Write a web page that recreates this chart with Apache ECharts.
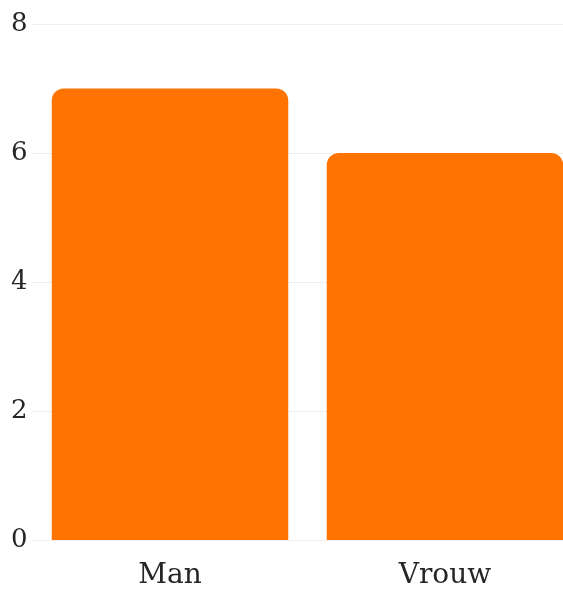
<!DOCTYPE html>
<html>
<head>
<meta charset="utf-8">
<script src="https://cdn.jsdelivr.net/npm/echarts@6/dist/echarts.min.js"></script>
<style>
html,body{margin:0;padding:0;background:#fff;overflow:hidden;}
#chart{width:563px;height:590px;}
</style>
</head>
<body>
<div id="chart"></div>
<script>
var categories = ['Man', 'Vrouw'];
var values = [7, 6];
var yTicks = { min: 0, max: 8, interval: 2 };

var chart = echarts.init(document.getElementById('chart'));
chart.setOption({
  animation: false,
  grid: { left: 32.5, right: -19.5, top: 24, bottom: 50, containLabel: false, outerBoundsMode: 'none' },
  xAxis: {
    type: 'category',
    data: categories,
    axisLine: { show: true, lineStyle: { color: '#eeeeee' } },
    axisTick: { show: false },
    axisLabel: { color: '#262626', fontFamily: 'DejaVu Serif', fontSize: 28, margin: 22 }
  },
  yAxis: {
    type: 'value',
    min: yTicks.min, max: yTicks.max, interval: yTicks.interval,
    axisLine: { show: false },
    axisTick: { show: false },
    splitLine: { lineStyle: { color: '#eeeeee' } },
    axisLabel: { color: '#262626', fontFamily: 'DejaVu Serif', fontSize: 26, margin: 5, padding: [6, 0, 0, 0] }
  },
  series: [{
    type: 'bar',
    data: values,
    barCategoryGap: '14%',
    itemStyle: { color: '#FF7400', borderRadius: [12, 12, 0, 0] }
  }]
});
</script>
</body>
</html>
